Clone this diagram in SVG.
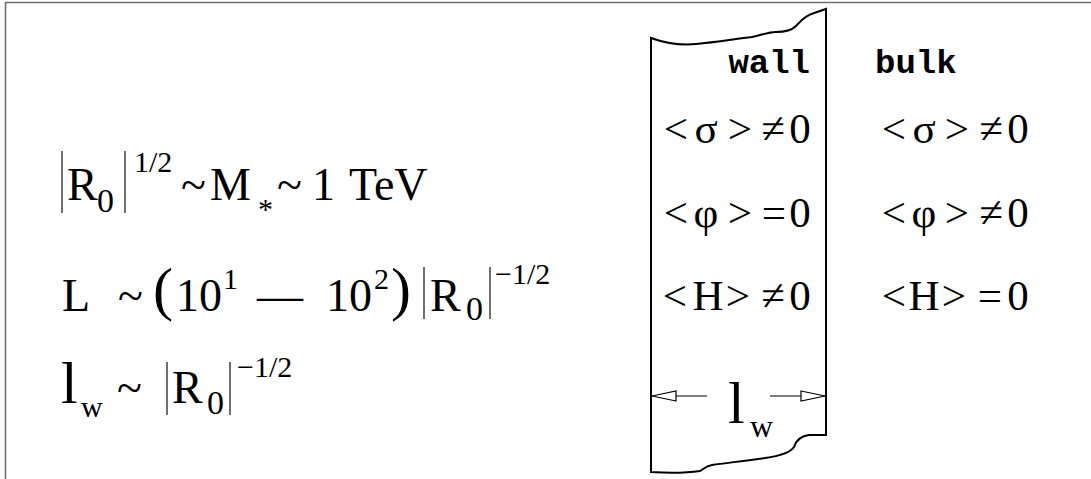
<svg xmlns="http://www.w3.org/2000/svg" width="1091" height="479" viewBox="0 0 1091 479">
<style>
.m{font-family:"Liberation Serif","Times New Roman",serif;fill:#000}
.big{font-size:46px}
.sm{font-size:30px}
.sub{font-size:34px}
.rel{font-family:"Liberation Serif","Times New Roman",serif;font-size:43px;text-anchor:middle;fill:#000}
.mono{font-family:"Liberation Mono","Courier New",monospace;font-weight:bold;font-size:34px;fill:#000}
.bar{stroke:#222;stroke-width:1.3}
.wall{fill:none;stroke:#000;stroke-width:2}
.dim{stroke:#000;stroke-width:1.2;fill:none}
</style>
<defs>
<marker id="open" viewBox="0 0 26 12" refX="26" refY="6" markerWidth="26" markerHeight="12" markerUnits="userSpaceOnUse" orient="auto">
<path d="M1,1 L25,6 L1,11 Z" fill="#fff" stroke="#000" stroke-width="1.2"/>
</marker>
</defs>
<rect width="1091" height="479" fill="#fff"/>
<g id="frame"><path d="M5.5,479 V2.5 H1091" fill="none" stroke="#707070" stroke-width="1.6"/></g>

<g id="eq-scale">
<line class="bar" x1="62" y1="151" x2="62" y2="213"/>
<text class="m big" x="67" y="200">R</text>
<text class="m sub" x="97" y="212">0</text>
<line class="bar" x1="125" y1="151" x2="125" y2="213"/>
<text class="m sm" x="134" y="172">1/2</text>
<text class="m big" x="181" y="200">~</text>
<text class="m big" x="210" y="200">M</text>
<text class="m sm" x="258" y="219">*</text>
<text class="m big" x="277" y="200">~</text>
<text class="m big" x="312" y="200">1</text>
<text class="m big" x="349" y="200">TeV</text>
</g>

<g id="eq-length">
<text class="m big" x="62" y="311">L</text>
<text class="m big" x="118" y="311">~</text>
<text class="m" font-size="60" x="153" y="309">(</text>
<text class="m big" x="176" y="311">10</text>
<text class="m sm" x="223" y="289">1</text>
<text class="m big" x="257" y="311">—</text>
<text class="m big" x="326" y="311">10</text>
<text class="m sm" x="374" y="289">2</text>
<text class="m" font-size="60" x="391" y="309">)</text>
<line class="bar" x1="424" y1="267" x2="424" y2="319"/>
<text class="m big" x="430" y="311">R</text>
<text class="m sub" x="466" y="320">0</text>
<line class="bar" x1="490" y1="267" x2="490" y2="319"/>
<text class="m sm" x="495" y="284">−1/2</text>
</g>

<g id="eq-width">
<text class="m" font-size="60" x="61" y="403">l</text>
<text class="m sm" x="81" y="417">w</text>
<text class="m big" x="117" y="403">~</text>
<line class="bar" x1="167" y1="362" x2="167" y2="415"/>
<text class="m big" x="172" y="403">R</text>
<text class="m sub" x="207" y="414">0</text>
<line class="bar" x1="230" y1="362" x2="230" y2="415"/>
<text class="m sm" x="237" y="377">−1/2</text>
</g>

<g id="wall">
<path class="wall" d="M651,473 V38 C662,42 676,46 696,44 C716,42 735,39 752,37 C762,35 768,32 776,32 C785,32 792,30 796,26 C800,22 804,16 814,13 C820,11 823,10 826,9 V435 H809 C800,436 796,441 794,447 C790,453 780,456 765,458 C745,461 725,463 712,465 C705,466 703,470 700,471 C680,474 665,473 651,472"/>
<text class="mono" x="810" y="73" text-anchor="end">wall</text>
<text class="rel" y="143"><tspan x="676">&lt;</tspan><tspan x="706">σ</tspan><tspan x="740">&gt;</tspan><tspan x="773">≠</tspan><tspan x="800">0</tspan></text>
<text class="rel" y="227"><tspan x="676">&lt;</tspan><tspan x="706">φ</tspan><tspan x="740">&gt;</tspan><tspan x="774">=</tspan><tspan x="800">0</tspan></text>
<text class="rel" y="310"><tspan x="675">&lt;</tspan><tspan x="708">H</tspan><tspan x="738">&gt;</tspan><tspan x="773">≠</tspan><tspan x="800">0</tspan></text>
<text class="m" font-size="60" x="728" y="423">l</text>
<text class="m" font-size="32" x="750" y="437">w</text>
</g>

<g id="bulk">
<text class="mono" x="875" y="73">bulk</text>
<text class="rel" y="143"><tspan x="894">&lt;</tspan><tspan x="924">σ</tspan><tspan x="957">&gt;</tspan><tspan x="991">≠</tspan><tspan x="1018">0</tspan></text>
<text class="rel" y="227"><tspan x="894">&lt;</tspan><tspan x="924">φ</tspan><tspan x="957">&gt;</tspan><tspan x="991">≠</tspan><tspan x="1018">0</tspan></text>
<text class="rel" y="310"><tspan x="894">&lt;</tspan><tspan x="924">H</tspan><tspan x="954">&gt;</tspan><tspan x="990">=</tspan><tspan x="1018">0</tspan></text>
</g>

<g id="connectors">
<line class="dim" x1="707" y1="396" x2="651" y2="396" marker-end="url(#open)"/>
<line class="dim" x1="770" y1="396" x2="826" y2="396" marker-end="url(#open)"/>
</g>
</svg>
